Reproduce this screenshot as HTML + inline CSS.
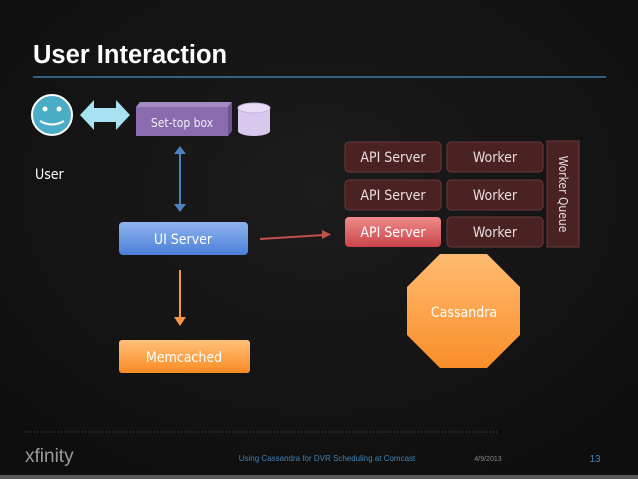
<!DOCTYPE html>
<html><head><style>
body{margin:0;width:638px;height:479px;overflow:hidden;background:#141414;font-family:"Liberation Sans",sans-serif;}
.c{font-family:"DejaVu Sans Condensed","Liberation Sans",sans-serif;}
</style></head><body>
<svg width="638" height="479" xmlns="http://www.w3.org/2000/svg" style="position:absolute;left:0;top:0">
<defs>
<linearGradient id="ui" x1="0" y1="0" x2="0" y2="1"><stop offset="0" stop-color="#8fb4ee"/><stop offset="1" stop-color="#4a7fd8"/></linearGradient>
<linearGradient id="mem" x1="0" y1="0" x2="0" y2="1"><stop offset="0" stop-color="#ffc07a"/><stop offset="1" stop-color="#f98b22"/></linearGradient>
<linearGradient id="oct" x1="0" y1="0" x2="0" y2="1"><stop offset="0" stop-color="#ffbb70"/><stop offset="1" stop-color="#f98e2a"/></linearGradient>
<linearGradient id="red" x1="0" y1="0" x2="0" y2="1"><stop offset="0" stop-color="#f08a8a"/><stop offset="1" stop-color="#c8454a"/></linearGradient>
<radialGradient id="bg" cx="0.5" cy="0.4" r="0.7"><stop offset="0" stop-color="#1c1c1c"/><stop offset="1" stop-color="#0e0e0e"/></radialGradient>
</defs>
<rect width="638" height="479" fill="url(#bg)"/>
<text x="33" y="63" fill="#fff" font-size="25.5" font-weight="bold">User Interaction</text>
<line x1="33" y1="77" x2="606" y2="77" stroke="#3a7ba8" stroke-width="1.5"/>
<circle cx="52" cy="115" r="20" fill="#4bacc6" stroke="#fff" stroke-width="2"/>
<circle cx="45" cy="109" r="2.5" fill="#fff"/><circle cx="59" cy="109" r="2.5" fill="#fff"/>
<path d="M40 121 Q52 128 64 121" stroke="#fff" stroke-width="2" fill="none"/>
<polygon points="80,115 94,100 94,108 116,108 116,100 130,115 116,130 116,122 94,122 94,130" fill="#a8e2f2"/>
<polygon points="136,107 140,102 232,102 228,107" fill="#a58bc4"/>
<polygon points="228,107 232,102 232,131 228,136" fill="#6e5292"/>
<rect x="136" y="107" width="92" height="29" fill="#8a6bb0"/>
<text x="182" y="127" fill="#eee" font-size="12" text-anchor="middle" class="c">Set-top box</text>
<path d="M238 108 L238 131 A16 5 0 0 0 270 131 L270 108" fill="#d8c8ee"/>
<ellipse cx="254" cy="108" rx="16" ry="5" fill="#e8ddf6" stroke="#c6b3e0"/>
<text x="35" y="179" fill="#fff" font-size="14" class="c">User</text>
<line x1="180" y1="152" x2="180" y2="206" stroke="#4f81bd" stroke-width="2"/>
<polygon points="174,154 180,146 186,154" fill="#4f81bd"/><polygon points="174,204 180,212 186,204" fill="#4f81bd"/>
<rect x="119" y="222" width="129" height="33" rx="4" fill="url(#ui)"/>
<text x="183" y="244" fill="#fff" font-size="14" text-anchor="middle" class="c">UI Server</text>
<line x1="260" y1="239" x2="324" y2="235" stroke="#c0504d" stroke-width="2"/>
<polygon points="322,230 331,234.5 322,239" fill="#c0504d"/>
<line x1="180" y1="270" x2="180" y2="318" stroke="#f79646" stroke-width="2"/>
<polygon points="174,317 180,326 186,317" fill="#f79646"/>
<rect x="119" y="340" width="131" height="33" rx="3" fill="url(#mem)"/>
<text x="184" y="362" fill="#fff" font-size="14" text-anchor="middle" class="c">Memcached</text>
<g font-size="14" text-anchor="middle" class="c">
<rect x="345" y="142" width="96" height="30" rx="4" fill="#4a2222" stroke="#6a3a3a"/>
<text x="393" y="162" fill="#e8dede">API Server</text>
<rect x="345" y="180" width="96" height="30" rx="4" fill="#4a2222" stroke="#6a3a3a"/>
<text x="393" y="200" fill="#e8dede">API Server</text>
<rect x="345" y="217" width="96" height="30" rx="4" fill="url(#red)"/>
<text x="393" y="237" fill="#fff">API Server</text>
<rect x="447" y="142" width="96" height="30" rx="4" fill="#4a2222" stroke="#6a3a3a"/>
<text x="495" y="162" fill="#e8dede">Worker</text>
<rect x="447" y="180" width="96" height="30" rx="4" fill="#4a2222" stroke="#6a3a3a"/>
<text x="495" y="200" fill="#e8dede">Worker</text>
<rect x="447" y="217" width="96" height="30" rx="4" fill="#4a2222" stroke="#6a3a3a"/>
<text x="495" y="237" fill="#e8dede">Worker</text>
<rect x="547" y="141" width="32" height="106" fill="#4a2222" stroke="#6a3a3a"/>
<text x="0" y="0" fill="#e8dede" font-size="12" transform="translate(559,194) rotate(90)">Worker Queue</text>
</g>
<polygon points="440,254 487,254 520,287 520,335 487,368 440,368 407,335 407,287" fill="url(#oct)"/>
<text x="464" y="317" fill="#fff" font-size="14" text-anchor="middle" class="c">Cassandra</text>
<line x1="25" y1="432" x2="498" y2="432" stroke="#555" stroke-dasharray="1,2"/>
<text x="25" y="462" fill="#9a9a9a" font-size="19">xfinity</text>
<text x="327" y="461" fill="#3f83b8" font-size="8" text-anchor="middle">Using Cassandra for DVR Scheduling at Comcast</text>
<text x="488" y="461" fill="#888" font-size="7" text-anchor="middle">4/9/2013</text>
<text x="595" y="462" fill="#3f83b8" font-size="10" text-anchor="middle">13</text>
<rect x="0" y="475" width="638" height="4" fill="#5a5a5a"/>
</svg>
</body></html>
